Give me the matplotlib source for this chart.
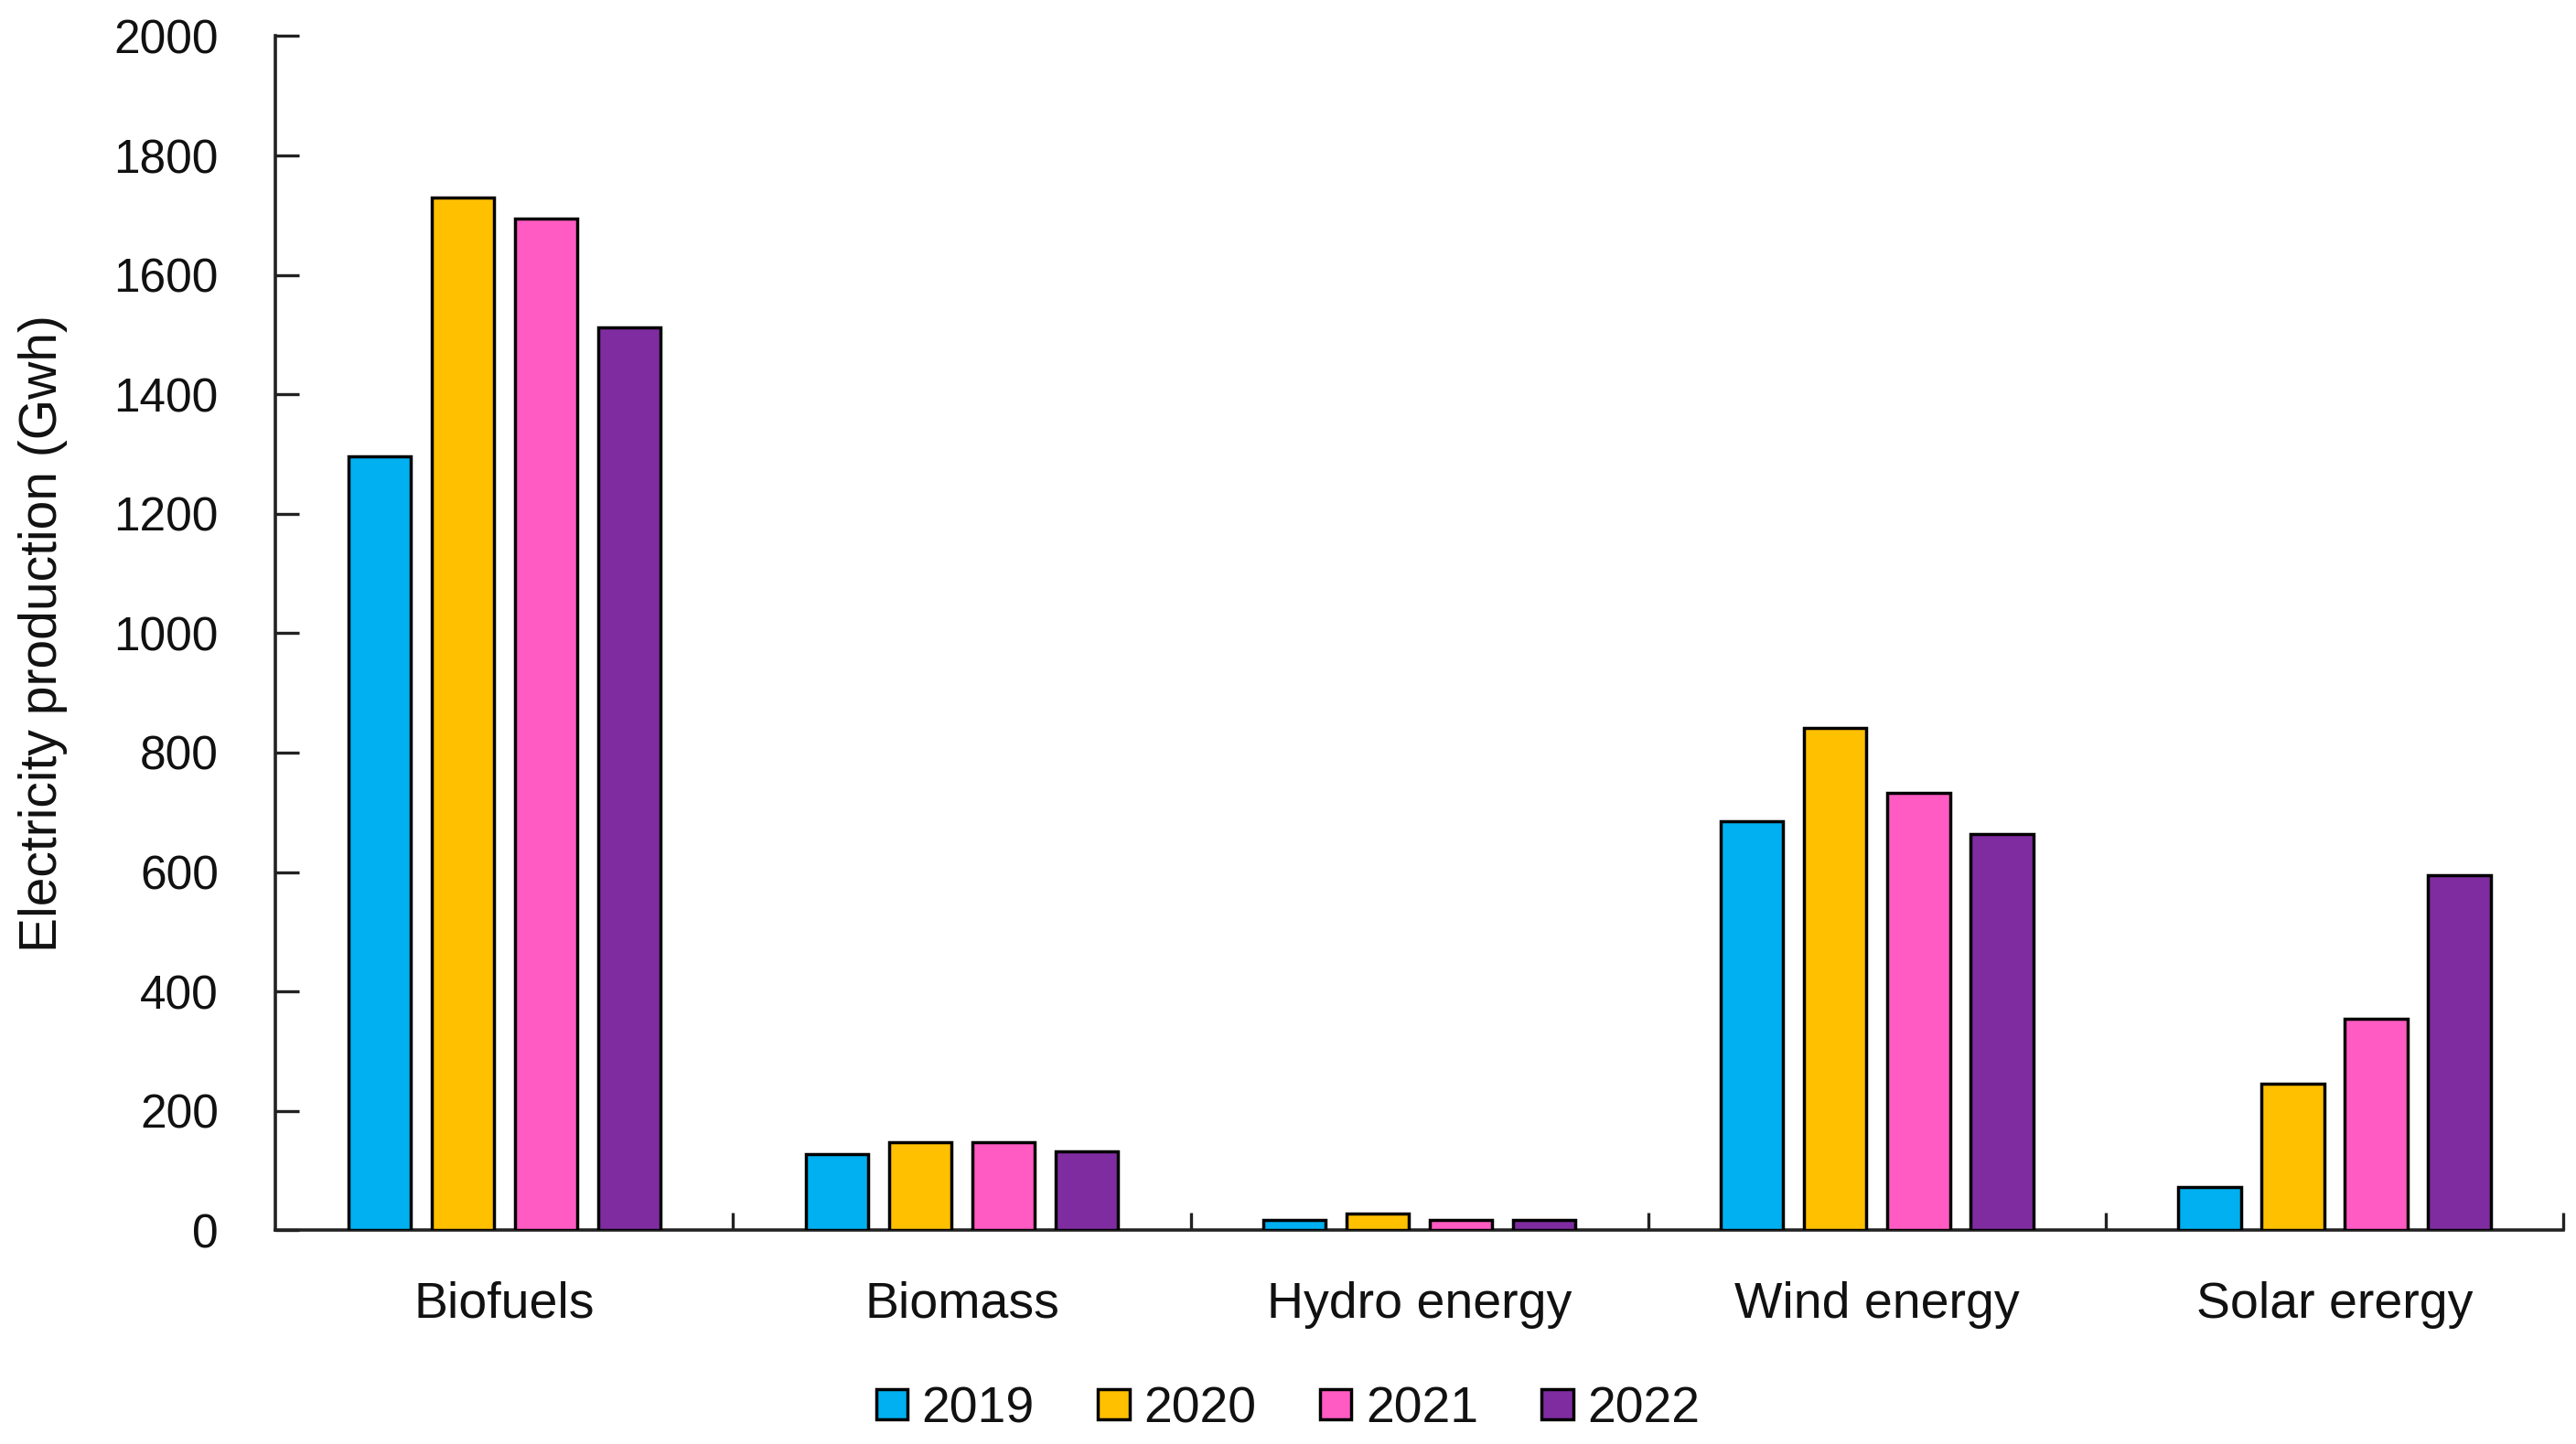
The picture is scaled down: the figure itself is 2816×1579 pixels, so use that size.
import matplotlib
matplotlib.use("Agg")
import matplotlib.pyplot as plt
import numpy as np
from matplotlib.patches import Patch

categories = ["Biofuels", "Biomass", "Hydro energy", "Wind energy", "Solar erergy"]
years = ["2019", "2020", "2021", "2022"]
v2019 = [1296, 127, 18, 685, 72]
v2020 = [1730, 148, 28, 842, 245]
v2021 = [1695, 148, 18, 732, 355]
v2022 = [1512, 132, 17, 663, 594]
series = [v2019, v2020, v2021, v2022]
colors = ["#00B0F0", "#FFC000", "#FF5BC3", "#7F2CA0"]
yticks = [0, 200, 400, 600, 800, 1000, 1200, 1400, 1600, 1800, 2000]

plt.rcParams['font.family'] = ['Liberation Sans', 'DejaVu Sans']

fig = plt.figure(figsize=(28.16, 15.79), dpi=100)
ax = fig.add_axes([0.107, 0.148, 0.888, 0.827])

x = np.arange(len(categories))
width = 0.137
step = 0.182
for i, (vals, c) in enumerate(zip(series, colors)):
    ax.bar(x + (i - 1.5) * step, vals, width, color=c, edgecolor="black",
           linewidth=2.5, label=years[i], zorder=3)

ax.set_xlim(-0.5, len(categories) - 0.5)
ax.set_ylim(0, 2000)
ax.set_yticks(yticks)
ax.set_yticklabels([str(t) for t in yticks], fontsize=37, color='#111111')
ax.set_xticks(x)
ax.set_xticklabels(categories, fontsize=40, color='#111111')
ax.tick_params(axis='x', length=0, pad=40)
ax.set_xticks(np.arange(len(categories)) + 0.5, minor=True)
ax.tick_params(axis='x', which='minor', direction='in', length=14, width=2.4, color='#222222')
ax.tick_params(axis='y', direction='in', length=19, width=2.4, color='#222222', pad=45)

for s in ['top', 'right']:
    ax.spines[s].set_visible(False)
for s in ['left', 'bottom']:
    ax.spines[s].set_linewidth(2.6)
    ax.spines[s].set_color('#222222')

ax.set_ylabel("Electricity production (Gwh)", fontsize=41, color='#111111')
ax.yaxis.set_label_coords(-0.091, 0.5)

handles = [Patch(facecolor=c, edgecolor='black', linewidth=2.5, label=y) for c, y in zip(colors, years)]
fig.legend(handles=handles, loc='center', bbox_to_anchor=(0.5, 0.024), ncol=4, frameon=False,
           fontsize=40, handlelength=0.62, handleheight=0.55, handletextpad=0.28,
           columnspacing=1.25, labelcolor='#111111')

fig.savefig("out.png", dpi=100, facecolor='white')
